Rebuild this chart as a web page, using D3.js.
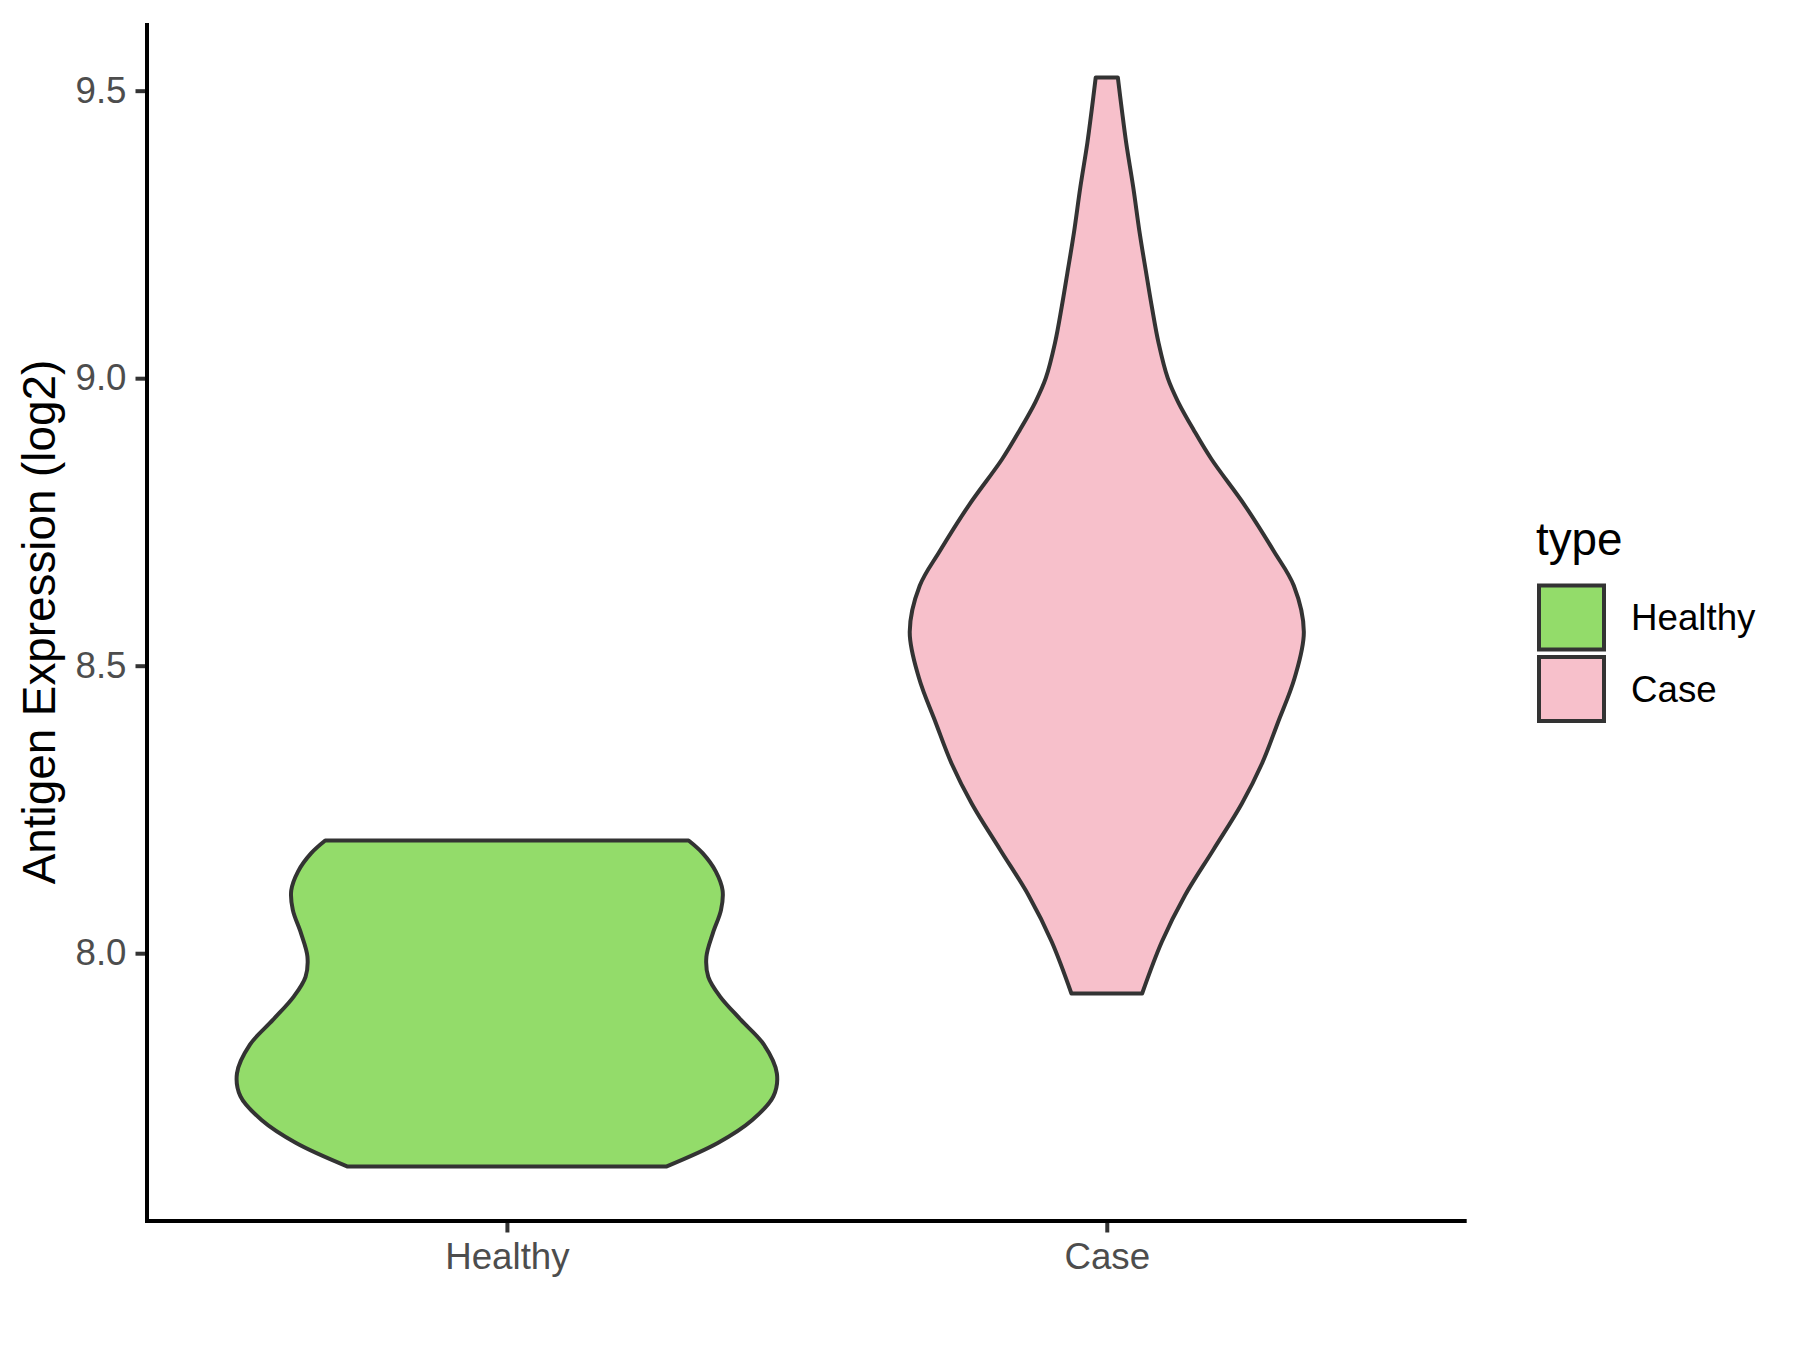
<!DOCTYPE html>
<html>
<head>
<meta charset="utf-8">
<script src="https://cdn.jsdelivr.net/npm/d3@7"></script>
<style>
  html, body { margin: 0; padding: 0; background: #ffffff; }
  svg { display: block; }
  text { font-family: "Liberation Sans", Arial, sans-serif; }
</style>
</head>
<body>
<svg id="chart" width="1800" height="1350"></svg>
<script>
// ---- data ----
const categories = ["Healthy", "Case"];
const fillColors = ["#93DC6A", "#F7C0CB"];
const yTicks = [8.0, 8.5, 9.0, 9.5];
const yTickLabels = ["8.0", "8.5", "9.0", "9.5"];
const yTitle = "Antigen Expression (log2)";
const legendTitle = "type";

// density outline of each violin: expression values and relative density (1 = widest)
const healthyValues  = [7.629, 7.670, 7.710, 7.751, 7.791, 7.841, 7.884, 7.925, 7.959, 7.994, 8.035, 8.075, 8.109, 8.142, 8.174, 8.196];
const healthyDensity = [0.590, 0.781, 0.909, 0.987, 1.000, 0.952, 0.867, 0.789, 0.746, 0.739, 0.763, 0.793, 0.799, 0.774, 0.725, 0.673];
const caseValues  = [7.930, 8.020, 8.100, 8.180, 8.260, 8.330, 8.400, 8.479, 8.559, 8.639, 8.699, 8.779, 8.859, 8.910, 8.959, 9.000, 9.061, 9.124, 9.183, 9.252, 9.332, 9.409, 9.466, 9.523];
const caseDensity = [0.131, 0.204, 0.289, 0.395, 0.500, 0.575, 0.633, 0.696, 0.730, 0.693, 0.619, 0.511, 0.388, 0.322, 0.264, 0.226, 0.192, 0.167, 0.146, 0.122, 0.098, 0.072, 0.056, 0.041];

const violins = [
  { cat: "Healthy", values: healthyValues, density: healthyDensity },
  { cat: "Case",    values: caseValues,    density: caseDensity }
];

// ---- layout ----
const panel = { left: 147, right: 1466.7, top: 23, bottom: 1221 };
const svg = d3.select("#chart");

const allVals = healthyValues.concat(caseValues);
const dMin = d3.min(allVals), dMax = d3.max(allVals);
const pad = (dMax - dMin) * 0.05;

const y = d3.scaleLinear().domain([dMin - pad, dMax + pad]).range([panel.bottom, panel.top]);
const x = d3.scalePoint().domain(categories).range([panel.left, panel.right]).padding(0.6);
const color = d3.scaleOrdinal().domain(categories).range(fillColors);

const maxDens = d3.max(violins, v => d3.max(v.density));
const w = d3.scaleLinear().domain([0, maxDens]).range([0, x.step() * 0.45]);

// ---- violins ----
violins.forEach(v => {
  const pts = v.values.map((val, i) => ({ val, d: v.density[i] }));
  const cx = x(v.cat);
  const area = d3.area()
    .y(p => y(p.val))
    .x0(p => cx - w(p.d))
    .x1(p => cx + w(p.d))
    .curve(d3.curveCatmullRom.alpha(0.5));
  svg.append("path")
    .attr("d", area(pts))
    .attr("fill", color(v.cat))
    .attr("stroke", "#333333")
    .attr("stroke-width", 4)
    .attr("stroke-linejoin", "round");
});

// ---- axes ----
const yAxis = d3.axisLeft(y).tickValues(yTicks).tickFormat((d, i) => yTickLabels[i]).tickSize(11.5).tickPadding(9);
const gy = svg.append("g").attr("transform", `translate(${panel.left},0)`).call(yAxis);
gy.select(".domain").remove();
gy.selectAll(".tick line").attr("stroke", "#333333").attr("stroke-width", 4);
gy.selectAll(".tick text").attr("fill", "#4D4D4D").attr("font-size", 36.7)
  .attr("font-family", "'Liberation Sans', Arial, sans-serif");

const xAxis = d3.axisBottom(x).tickSize(11.5).tickPadding(9);
const gx = svg.append("g").attr("transform", `translate(0,${panel.bottom})`).call(xAxis);
gx.select(".domain").remove();
gx.selectAll(".tick line").attr("stroke", "#333333").attr("stroke-width", 4);
gx.selectAll(".tick text").attr("fill", "#4D4D4D").attr("font-size", 36.7)
  .attr("font-family", "'Liberation Sans', Arial, sans-serif").attr("dy", "0.75em");

// axis lines
svg.append("line").attr("x1", panel.left).attr("x2", panel.left)
  .attr("y1", panel.top).attr("y2", panel.bottom + 2)
  .attr("stroke", "#000000").attr("stroke-width", 4);
svg.append("line").attr("x1", panel.left - 2).attr("x2", panel.right)
  .attr("y1", panel.bottom).attr("y2", panel.bottom)
  .attr("stroke", "#000000").attr("stroke-width", 4);

// y title
svg.append("text")
  .attr("transform", `translate(55,${(panel.top + panel.bottom) / 2}) rotate(-90)`)
  .attr("text-anchor", "middle")
  .attr("font-size", 45.8)
  .attr("fill", "#000000")
  .text(yTitle);

// ---- legend ----
const lg = svg.append("g");
lg.append("text").attr("x", 1536).attr("y", 555).attr("font-size", 45.8).attr("fill", "#000").text(legendTitle);
categories.forEach((c, i) => {
  const top = 585.5 + i * 71.5;
  lg.append("rect").attr("x", 1539).attr("y", top).attr("width", 65).attr("height", 64)
    .attr("fill", color(c)).attr("stroke", "#333333").attr("stroke-width", 4);
  lg.append("text").attr("x", 1631).attr("y", top + 44.5).attr("font-size", 36.7).attr("fill", "#000").text(c);
});
</script>
</body>
</html>
